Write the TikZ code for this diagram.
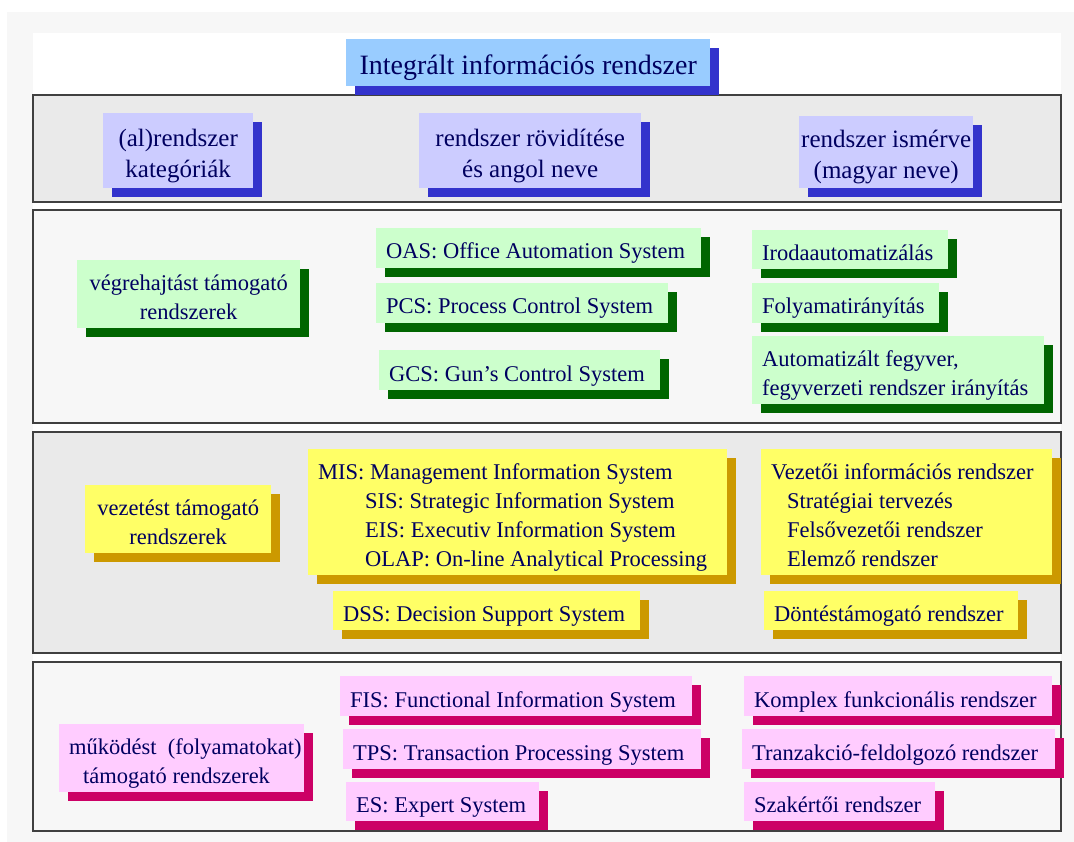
\documentclass[tikz,border=0pt]{standalone}
\usepackage{fontspec}
\setmainfont{Liberation Serif}
\usetikzlibrary{shadows}
\definecolor{txt}{HTML}{000060}
\definecolor{outerg}{HTML}{F7F7F7}
\definecolor{bandA}{HTML}{EAEAEA}
\definecolor{bandB}{HTML}{F7F7F7}
\definecolor{bandline}{HTML}{404040}
\definecolor{titleF}{HTML}{99CCFF}
\definecolor{blueF}{HTML}{CCCCFF}
\definecolor{blueS}{HTML}{3333CC}
\definecolor{greenF}{HTML}{CCFFCC}
\definecolor{greenS}{HTML}{006600}
\definecolor{yelF}{HTML}{FFFF66}
\definecolor{yelS}{HTML}{CC9900}
\definecolor{pinkF}{HTML}{FFCCFF}
\definecolor{pinkS}{HTML}{CC0066}
\newcommand\pbx[8]{%
  \pgfmathsetmacro\pbW{#5-#3}\pgfmathsetmacro\pbH{#6-#4}\pgfmathsetmacro\pbT{#5-#3-20}%
  \node[#2, minimum width=\pbW pt, minimum height=\pbH pt] (#1) at (#3,#4)
    {\makebox[\pbT pt][#7]{\raisebox{0pt}[\dimexpr\height+10pt\relax][\depth]{\begin{tabular}{@{}#7@{}}#8\end{tabular}}}};}
\tikzset{
  shad/.style={drop shadow={shadow xshift=8.5pt,shadow yshift=-9pt,fill=#1,opacity=1}},
  box/.style={anchor=north west, inner xsep=10pt, inner ysep=0pt, text=txt,
    font=\fontsize{22.5}{29}\selectfont},
  hbox/.style={box, fill=blueF, shad=blueS, font=\fontsize{25}{31}\selectfont},
  gbox/.style={box, fill=greenF, shad=greenS},
  ybox/.style={box, fill=yelF, shad=yelS},
  pbox/.style={box, fill=pinkF, shad=pinkS},
  band/.style={draw=bandline, line width=1.3pt},
}
\begin{document}
\begin{tikzpicture}[x=1pt,y=-1pt]
\useasboundingbox (0,0) rectangle (1074,842);
\fill[white] (0,0) rectangle (1074,842);
\fill[outerg] (7,12) rectangle (1074,842);
\fill[white] (33,33) rectangle (1061,831);
% bands
\draw[band, fill=bandA] (33,95) rectangle (1061,202);
\draw[band, fill=bandB] (33,210) rectangle (1061,423);
\draw[band, fill=bandA] (33,432) rectangle (1061,653);
\draw[band, fill=bandB] (33,662) rectangle (1061,831);
% title
\pbx{title}{box, fill=titleF, shad=blueS, font=\fontsize{28}{34}\selectfont}{346}{39}{710}{86}{c}{Integrált információs rendszer}
% header row
\pbx{cat}{hbox}{103}{113}{253}{188}{c}{(al)rendszer\\kategóriák}
\pbx{abbr}{hbox}{419}{113}{641}{188}{c}{rendszer rövidítése\\és angol neve}
\pbx{feat}{hbox}{799}{116}{973}{181}{c}{rendszer ismérve\\(magyar neve)}
% executing systems
\pbx{vegre}{gbox}{77}{260}{300}{328}{c}{végrehajtást támogató\\rendszerek}
\pbx{oas}{gbox}{376}{228}{701}{268}{l}{OAS: Office Automation System}
\pbx{pcs}{gbox}{376}{283}{668}{323}{l}{PCS: Process Control System}
\pbx{gcs}{gbox}{379}{350}{660}{390}{l}{GCS: Gun’s Control System}
\pbx{iroda}{gbox}{752}{230}{948}{269}{l}{Irodaautomatizálás}
\pbx{folyam}{gbox}{752}{283}{939}{323}{l}{Folyamatirányítás}
\pbx{fegyver}{gbox}{752}{336}{1044}{404}{l}{Automatizált fegyver,\\fegyverzeti rendszer irányítás}
% management systems
\pbx{vez}{ybox}{85}{485}{271}{553}{c}{vezetést támogató\\rendszerek}
\pbx{mis}{ybox}{308}{449}{727}{573}{l}{MIS: Management Information System\\\hspace*{47pt}SIS: Strategic Information System\\\hspace*{47pt}EIS: Executiv Information System\\\hspace*{47pt}OLAP: On-line Analytical Processing}
\pbx{dss}{ybox}{333}{591}{640}{629}{l}{DSS: Decision Support System}
\pbx{vezinf}{ybox}{761}{449}{1052}{573}{l}{Vezetői információs rendszer\\\hspace*{16pt}Stratégiai tervezés\\\hspace*{16pt}Felsővezetői rendszer\\\hspace*{16pt}Elemző rendszer}
\pbx{dont}{ybox}{764}{591}{1018}{629}{l}{Döntéstámogató rendszer}
% operational systems
\pbx{mukod}{pbox}{59}{724}{304}{792}{l}{működést\ \ (folyamatokat)\\\hspace*{14pt}támogató rendszerek}
\pbx{fis}{pbox}{340}{676}{692}{716}{l}{FIS: Functional Information System}
\pbx{tps}{pbox}{343}{729}{701}{769}{l}{TPS: Transaction Processing System}
\pbx{es}{pbox}{346}{782}{539}{821}{l}{ES: Expert System}
\pbx{komplex}{pbox}{744}{676}{1052}{716}{l}{Komplex funkcionális rendszer}
\pbx{tranz}{pbox}{742}{729}{1055}{769}{l}{Tranzakció-feldolgozó rendszer}
\pbx{szak}{pbox}{744}{782}{935}{821}{l}{Szakértői rendszer}
\end{tikzpicture}
\end{document}
